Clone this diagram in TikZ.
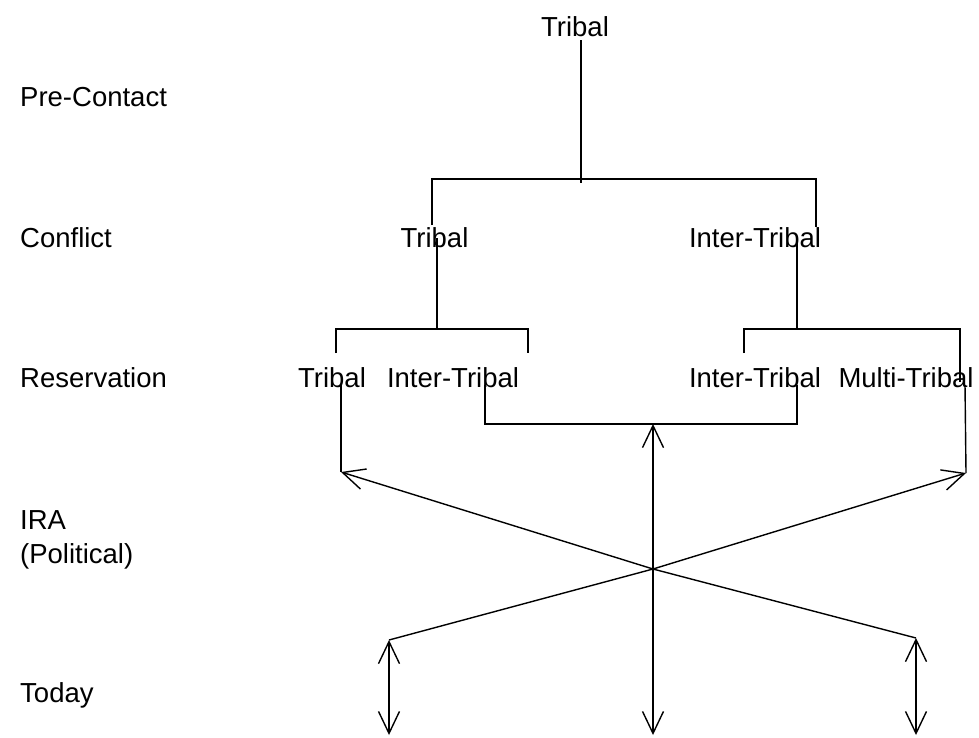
\documentclass[tikz,border=0pt]{standalone}
\usepackage{fontspec}
\setmainfont{Liberation Sans}
\usetikzlibrary{arrows.meta}

\begin{document}
\begin{tikzpicture}[
  x=1pt, y=-1pt,
  lbl/.style={inner sep=0pt, anchor=base, font=\fontsize{27.5}{33}\selectfont},
  era/.style={lbl, anchor=base west},
  link/.style={line width=1.4pt},
  arrow/.style={link, -{Straight Barb[length=22pt, width=21pt]}},
  biarrow/.style={link, {Straight Barb[length=22pt, width=21pt]}-{Straight Barb[length=22pt, width=21pt]}}
]
\useasboundingbox (0,0) rectangle (979,737);

\node[lbl] (top) at (575,36) {Tribal};
\node[era] (pre) at (20,106) {Pre-Contact};
\node[era] (conf) at (20,247) {Conflict};
\node[era] (res) at (20,387) {Reservation};
\node[era] (ira) at (20,529) {IRA};
\node[era] (pol) at (20,563) {(Political)};
\node[era] (today) at (20,702) {Today};

\node[lbl] (ctrib) at (434.5,247) {Tribal};
\node[lbl] (cinter) at (755,247) {Inter-Tribal};
\node[lbl] (rtrib) at (332,387) {Tribal};
\node[lbl] (rinter) at (453,387) {Inter-Tribal};
\node[lbl] (rinter2) at (755,387) {Inter-Tribal};
\node[lbl] (rmulti) at (906,387) {Multi-Tribal};

\coordinate (t0) at (581,179);
\coordinate (tl) at (432,225);
\coordinate (tr) at (816,227);
\coordinate (cl) at (437,238);
\coordinate (l0) at (437,329);
\coordinate (l1) at (336,353);
\coordinate (l2) at (528,353);
\coordinate (cr) at (797,243);
\coordinate (r0) at (797,329);
\coordinate (m1) at (744,353);
\coordinate (m2) at (960,382);

\coordinate (a1) at (341,385);
\coordinate (lt) at (341,472);
\coordinate (a2) at (965,385);
\coordinate (rt) at (966,473);
\coordinate (b1) at (485,385);
\coordinate (b2) at (797,385);
\coordinate (hub) at (653,424);
\coordinate (cross) at (653,569);
\coordinate (lb) at (389,640);
\coordinate (rb) at (916,638);
\coordinate (lbase) at (389,735);
\coordinate (mbase) at (653,735);
\coordinate (rbase) at (916,735);

\draw[link] ([yshift=-4pt]top.south -| t0) -- ([yshift=-4pt]t0);
\draw[link] (tl) |- (t0) -| (tr);
\draw[link] (cl) -- (l0);
\draw[link] (l1) |- (l0) -| (l2);
\draw[link] (cr) -- (r0);
\draw[link] (m1) |- (r0) -| (m2);

\draw[link] (a1) -- (lt);
\draw[link] (a2) -- (rt);
\draw[link] (b1) |- (hub) -| (b2);
\draw[arrow] (lb) -- (cross) -- (rt);
\draw[arrow] (rb) -- (cross) -- (lt);
\draw[biarrow] (hub) -- (mbase);
\draw[biarrow] (lb) -- (lbase);
\draw[biarrow] (rb) -- (rbase);
\end{tikzpicture}
\end{document}
